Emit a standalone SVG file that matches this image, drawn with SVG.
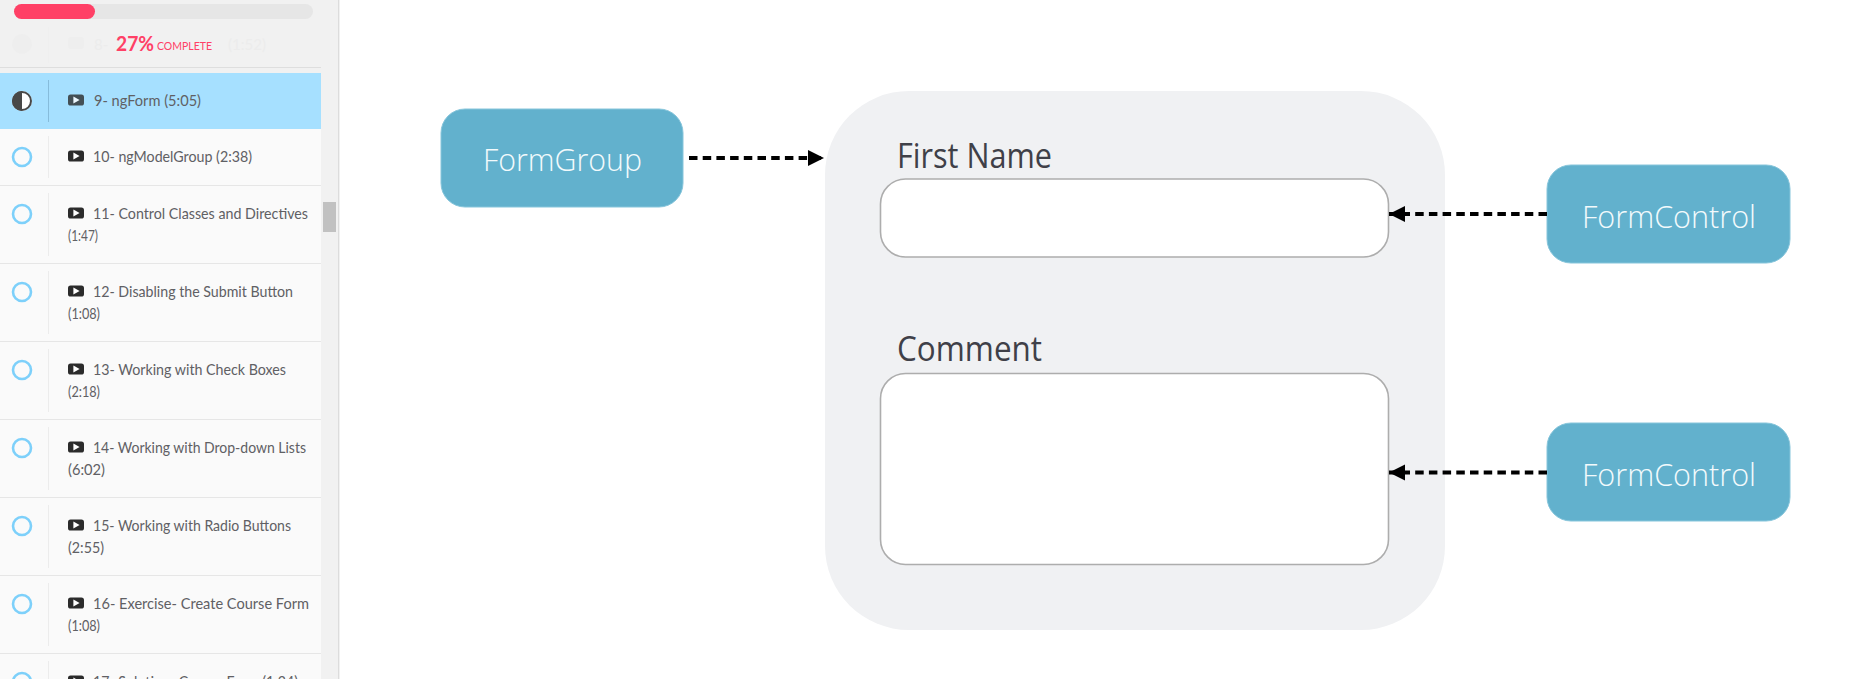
<svg xmlns="http://www.w3.org/2000/svg" xmlns:xlink="http://www.w3.org/1999/xlink" width="1871" height="679" viewBox="0 0 1871 679">
<style>
.t{font-family:"Lato","Open Sans",sans-serif;font-size:15px;fill:#606064}
.ring{fill:none;stroke:#7dd0fa;stroke-width:2.6}
.div{stroke:#ececec;stroke-width:1}
.sep{stroke:#e6e6e6;stroke-width:1.2}
.node{fill:#62b1cd;stroke:#86c5db;stroke-width:1}
.nt{font-family:"Open Sans","Noto Sans",sans-serif;font-size:32px;font-weight:300;fill:#f2fafc;text-anchor:start}
.lab{font-family:"Open Sans","Noto Sans",sans-serif;font-size:34px;fill:#3f4048}
.field{fill:#fff;stroke:#adadad;stroke-width:1.6}
.dash{fill:none;stroke:#000;stroke-width:4;stroke-dasharray:8.500 5.200}
</style>
<defs>
<g id="play"><rect x="0" y="-5.500" width="16" height="11" rx="2.600" fill="#2b2b2b"/><path d="M5.400 -3.400 L11.600 0 L5.400 3.400Z" fill="#fff"/></g>
<marker id="head" markerUnits="userSpaceOnUse" markerWidth="17" markerHeight="18" refX="16" refY="9" orient="auto"><path d="M0 1 L16 9 L0 17Z" fill="#000"/></marker>
</defs>
<rect width="1871" height="679" fill="#fff"/>
<g id="sidebar">
<rect x="0" y="0" width="338" height="679" fill="#f1f1f1"/>
<rect x="338" y="0" width="1.400" height="679" fill="#dcdcdc"/>
<rect x="0" y="129" width="321" height="550" fill="#fafafa"/>
<rect x="323" y="202" width="13" height="30" fill="#c1c1c1"/>
<rect x="14" y="4" width="299" height="15" rx="7.500" fill="#e6e6e6"/>
<rect x="14" y="4" width="81" height="15" rx="7.500" fill="#ff4066"/>
<g fill="#eeeeee"><circle cx="22" cy="44" r="10"/><rect x="68" y="37" width="16" height="12" rx="3"/></g>
<line x1="48.500" y1="27" x2="48.500" y2="63" stroke="#efefef"/>
<text x="94" y="50" class="t" style="fill:#ececec">8-</text>
<text x="228" y="50" class="t" style="fill:#ececec" textLength="38" lengthAdjust="spacingAndGlyphs">(1:52)</text>
<text x="116" y="51" font-family="Lato,'Open Sans',sans-serif" font-size="21" font-weight="700" fill="#ff4066" textLength="38" lengthAdjust="spacingAndGlyphs">27%</text>
<text x="157" y="50" font-family="Lato,'Open Sans',sans-serif" font-size="12" fill="#ff4066" textLength="55" lengthAdjust="spacingAndGlyphs">COMPLETE</text>
<line x1="0" y1="67.500" x2="321" y2="67.500" stroke="#dedede" stroke-width="1.200"/>
<rect x="0" y="73" width="321" height="56" fill="#a6e0ff"/>
</g>
<g id="lesson-9">
<circle cx="22" cy="101" r="10" fill="#fff"/><path d="M22 91 A10 10 0 0 0 22 111Z" fill="#484848"/><circle cx="22" cy="101" r="9" fill="none" stroke="#484848" stroke-width="2"/>
<line x1="48.500" y1="80" x2="48.500" y2="122" stroke="#86bcdb"/>
<use xlink:href="#play" x="68" y="100" opacity="0.8"/>
<text x="94" y="106" class="t" textLength="107" lengthAdjust="spacingAndGlyphs">9- ngForm (5:05)</text>
</g>
<g id="lesson-10">
<circle class="ring" cx="22" cy="157" r="9"/><line class="div" x1="48.500" y1="136" x2="48.500" y2="178"/><use xlink:href="#play" x="68" y="156"/>
<text x="93" y="162" class="t" textLength="159" lengthAdjust="spacingAndGlyphs">10- ngModelGroup (2:38)</text>
<line class="sep" x1="0" y1="185.500" x2="321" y2="185.500"/>
</g>
<g id="lesson-11">
<circle class="ring" cx="22" cy="214" r="9"/><line class="div" x1="48.500" y1="193" x2="48.500" y2="256"/><use xlink:href="#play" x="68" y="213"/>
<text x="93" y="219" class="t" textLength="215" lengthAdjust="spacingAndGlyphs">11- Control Classes and Directives</text>
<text x="68" y="241" class="t" textLength="30" lengthAdjust="spacingAndGlyphs">(1:47)</text>
<line class="sep" x1="0" y1="263.500" x2="321" y2="263.500"/>
</g>
<g id="lesson-12">
<circle class="ring" cx="22" cy="292" r="9"/><line class="div" x1="48.500" y1="271" x2="48.500" y2="334"/><use xlink:href="#play" x="68" y="291"/>
<text x="93" y="297" class="t" textLength="200" lengthAdjust="spacingAndGlyphs">12- Disabling the Submit Button</text>
<text x="68" y="319" class="t" textLength="32" lengthAdjust="spacingAndGlyphs">(1:08)</text>
<line class="sep" x1="0" y1="341.500" x2="321" y2="341.500"/>
</g>
<g id="lesson-13">
<circle class="ring" cx="22" cy="370" r="9"/><line class="div" x1="48.500" y1="349" x2="48.500" y2="412"/><use xlink:href="#play" x="68" y="369"/>
<text x="93" y="375" class="t" textLength="193" lengthAdjust="spacingAndGlyphs">13- Working with Check Boxes</text>
<text x="68" y="397" class="t" textLength="32" lengthAdjust="spacingAndGlyphs">(2:18)</text>
<line class="sep" x1="0" y1="419.500" x2="321" y2="419.500"/>
</g>
<g id="lesson-14">
<circle class="ring" cx="22" cy="448" r="9"/><line class="div" x1="48.500" y1="427" x2="48.500" y2="490"/><use xlink:href="#play" x="68" y="447"/>
<text x="93" y="453" class="t" textLength="213" lengthAdjust="spacingAndGlyphs">14- Working with Drop-down Lists</text>
<text x="68" y="475" class="t" textLength="37" lengthAdjust="spacingAndGlyphs">(6:02)</text>
<line class="sep" x1="0" y1="497.500" x2="321" y2="497.500"/>
</g>
<g id="lesson-15">
<circle class="ring" cx="22" cy="526" r="9"/><line class="div" x1="48.500" y1="505" x2="48.500" y2="568"/><use xlink:href="#play" x="68" y="525"/>
<text x="93" y="531" class="t" textLength="198" lengthAdjust="spacingAndGlyphs">15- Working with Radio Buttons</text>
<text x="68" y="553" class="t" textLength="36" lengthAdjust="spacingAndGlyphs">(2:55)</text>
<line class="sep" x1="0" y1="575.500" x2="321" y2="575.500"/>
</g>
<g id="lesson-16">
<circle class="ring" cx="22" cy="604" r="9"/><line class="div" x1="48.500" y1="583" x2="48.500" y2="646"/><use xlink:href="#play" x="68" y="603"/>
<text x="93" y="609" class="t" textLength="216" lengthAdjust="spacingAndGlyphs">16- Exercise- Create Course Form</text>
<text x="68" y="631" class="t" textLength="32" lengthAdjust="spacingAndGlyphs">(1:08)</text>
<line class="sep" x1="0" y1="653.500" x2="321" y2="653.500"/>
</g>
<g id="lesson-17">
<circle class="ring" cx="22" cy="682" r="9"/><line class="div" x1="48.500" y1="661" x2="48.500" y2="679"/><use xlink:href="#play" x="68" y="681"/>
<text x="93" y="687" class="t" textLength="205" lengthAdjust="spacingAndGlyphs">17- Solution- Course Form (1:24)</text>
</g>
<g id="form-panel">
<rect x="825" y="91" width="620" height="539" rx="84" fill="#f0f1f3"/>
</g>
<g id="first-name">
<text x="897" y="168" class="lab" textLength="155" lengthAdjust="spacingAndGlyphs">First Name</text>
<rect class="field" x="880.500" y="179" width="508" height="78" rx="25"/>
</g>
<g id="comment">
<text x="897" y="361" class="lab" textLength="145" lengthAdjust="spacingAndGlyphs">Comment</text>
<rect class="field" x="880.500" y="373.500" width="508" height="191" rx="25"/>
</g>
<g id="form-group">
<rect class="node" x="441" y="109" width="242" height="98" rx="24"/>
<text x="483" y="171" class="nt" textLength="159" lengthAdjust="spacingAndGlyphs">FormGroup</text>
</g>
<g id="form-control-1">
<rect class="node" x="1547" y="165" width="243" height="98" rx="24"/>
<text x="1582" y="228" class="nt" textLength="174" lengthAdjust="spacingAndGlyphs">FormControl</text>
</g>
<g id="form-control-2">
<rect class="node" x="1547" y="423" width="243" height="98" rx="24"/>
<text x="1582" y="486" class="nt" textLength="174" lengthAdjust="spacingAndGlyphs">FormControl</text>
</g>
<g id="connectors">
<line class="dash" x1="689" y1="158" x2="824" y2="158" marker-end="url(#head)"/>
<line class="dash" x1="1547" y1="214" x2="1389" y2="214" marker-end="url(#head)"/>
<line class="dash" x1="1547" y1="472.500" x2="1389" y2="472.500" marker-end="url(#head)"/>
</g>
</svg>
